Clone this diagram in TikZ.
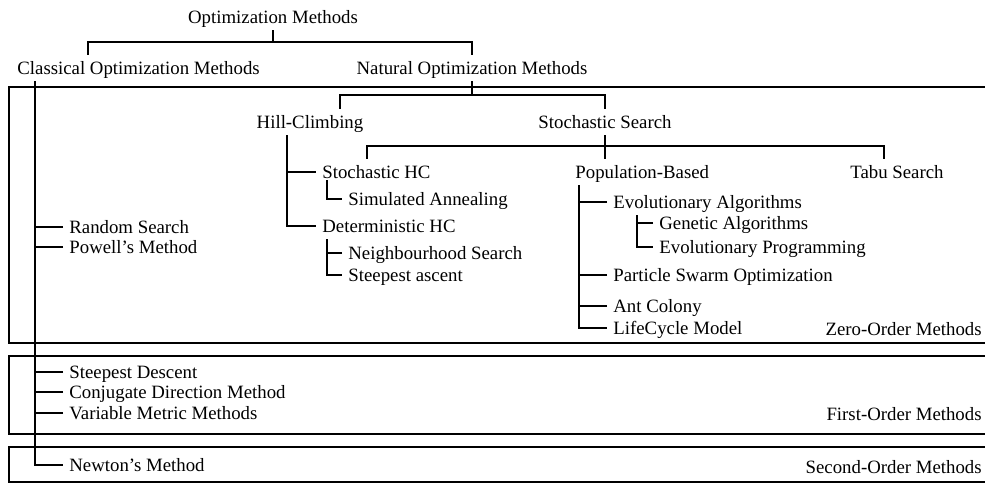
\documentclass[tikz,border=0pt]{standalone}
\usepackage{fontspec}
\setmainfont{Liberation Serif}
\usetikzlibrary{calc}

\begin{document}
\begin{tikzpicture}[x=0.5pt,y=-0.5pt,
  meth/.style={font=\fontsize{9.4}{11}\selectfont, inner xsep=3pt, inner ysep=2pt, text height=7.6pt, text depth=1.2pt},
  lnk/.style={line width=1.1pt},
  zone/.style={line width=0.6pt}]
\useasboundingbox (0,0) rectangle (985,484);
% order boxes, open on the right
\draw[zone] (990,87) -| (9,343) -- (990,343);
\draw[zone] (990,356) -| (9,434) -- (990,434);
\draw[zone] (990,447) -| (9,482) -- (990,482);
% headings
\node[meth] (om) at (273,17) {Optimization Methods};
\node[meth,anchor=west] (com) at (11,68) {Classical Optimization Methods};
\node[meth] (nom) at (472,68) {Natural Optimization Methods};
\node[meth] (hc) at (310,122) {Hill-Climbing};
\node[meth] (ss) at (605,122) {Stochastic Search};
\node[meth,anchor=west] (shc) at (316,172) {Stochastic HC};
\node[meth,anchor=west] (pb) at (569,172) {Population-Based};
\node[meth] (ts) at (897,172) {Tabu Search};
% natural methods
\node[meth,anchor=west] (sa) at (342,199) {Simulated Annealing};
\node[meth,anchor=west] (dhc) at (316,226) {Deterministic HC};
\node[meth,anchor=west] (ns) at (342,253) {Neighbourhood Search};
\node[meth,anchor=west] (sta) at (342,275) {Steepest ascent};
\node[meth,anchor=west] (ea) at (607,202) {Evolutionary Algorithms};
\node[meth,anchor=west] (ga) at (653,223) {Genetic Algorithms};
\node[meth,anchor=west] (ep) at (653,247) {Evolutionary Programming};
\node[meth,anchor=west] (pso) at (607,275) {Particle Swarm Optimization};
\node[meth,anchor=west] (ac) at (607,306) {Ant Colony};
\node[meth,anchor=west] (lcm) at (607,328) {LifeCycle Model};
% classical methods
\node[meth,anchor=west] (rs) at (63,227) {Random Search};
\node[meth,anchor=west] (pm) at (63,247) {Powell's Method};
\node[meth,anchor=west] (sd) at (63,372) {Steepest Descent};
\node[meth,anchor=west] (cdm) at (63,392) {Conjugate Direction Method};
\node[meth,anchor=west] (vmm) at (63,413) {Variable Metric Methods};
\node[meth,anchor=west] (nm) at (63,465) {Newton's Method};
% order labels
\node[meth,anchor=east] (zom) at (988,329) {Zero-Order Methods};
\node[meth,anchor=east] (fom) at (988,414) {First-Order Methods};
\node[meth,anchor=east] (som) at (988,467) {Second-Order Methods};
% brackets
\draw[lnk] (om.south) -- ++(0,12) coordinate (j0);
\draw[lnk] ([xshift=38.5pt]com.north west) |- (j0) -| (nom.north);
\draw[lnk] (nom.south) -- ++(0,14) coordinate (j1);
\draw[lnk] ([xshift=15pt]hc.north) |- (j1) -| (ss.north);
\draw[lnk] (ss.south) -- (ss.south |- pb.north);
\coordinate (j2) at ([yshift=-5.5pt]ss.south);
\draw[lnk] ([xshift=25.5pt]shc.north west) |- (j2) -| ([xshift=-6.5pt]ts.north);
% hill-climbing
\coordinate (hcs) at ([xshift=-11.5pt]hc.south);
\draw[lnk] (hcs) |- (dhc.west);
\draw[lnk] (hcs |- shc.west) -- (shc.west);
\draw[lnk] ([xshift=5.5pt,yshift=2.5pt]shc.south west) |- (sa.west);
\draw[lnk] ([xshift=5.5pt]dhc.south west) |- (sta.west);
\draw[lnk] (ns.west) -- ++(-15,0);
% population-based
\draw[lnk] ([xshift=5pt]pb.south west) |- (lcm.west);
\draw[lnk] (ea.west) -- ++(-28,0);
\draw[lnk] (pso.west) -- ++(-28,0);
\draw[lnk] (ac.west) -- ++(-28,0);
\draw[lnk] ([xshift=15pt]ea.south west) |- (ep.west);
\draw[lnk] (ga.west) -- ++(-16,0);
% classical
\draw[lnk] ([xshift=12pt]com.south west) |- (nm.west);
\draw[lnk] (rs.west) -- ++(-28,0);
\draw[lnk] (pm.west) -- ++(-28,0);
\draw[lnk] (sd.west) -- ++(-28,0);
\draw[lnk] (cdm.west) -- ++(-28,0);
\draw[lnk] (vmm.west) -- ++(-28,0);
\end{tikzpicture}
\end{document}
